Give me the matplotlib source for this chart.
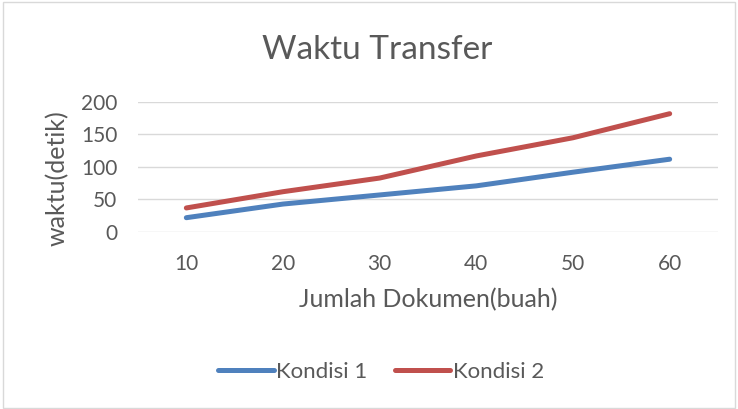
import matplotlib
matplotlib.use("Agg")
import matplotlib.pyplot as plt
from matplotlib.patches import Rectangle

categories = ["10", "20", "30", "40", "50", "60"]
kondisi1 = [22, 43, 57, 71, 92, 112]
kondisi2 = [37, 62, 83, 117, 145, 182]
yticks = [0, 50, 100, 150, 200]

plt.rcParams['font.family'] = ['Lato', 'DejaVu Sans']
W, H = 738, 409
fig = plt.figure(figsize=(W/100, H/100), dpi=100)
fig.patches.append(Rectangle((3/W, 1/H), 1-6/W, 1-3/H, transform=fig.transFigure,
                             fill=False, edgecolor='#D9D9D9', lw=1))

ax = fig.add_axes([138/W, 1-232/H, (718-138)/W, (232-102)/H])
x = list(range(len(categories)))
ax.plot(x, kondisi1, color='#4F81BD', lw=3.6, solid_capstyle='round', solid_joinstyle='round', label='Kondisi 1')
ax.plot(x, kondisi2, color='#C0504D', lw=3.6, solid_capstyle='round', solid_joinstyle='round', label='Kondisi 2')
ax.set_xlim(-0.5, len(categories)-0.5)
ax.set_ylim(0, 200)
ax.set_yticks(yticks)
ax.set_xticks(x)
ax.set_xticklabels(categories)
ax.yaxis.grid(True, color='#D9D9D9', lw=1)
ax.set_axisbelow(True)
for s in ax.spines.values():
    s.set_visible(False)
ax.tick_params(length=0, labelsize=15, colors='#595959')
ax.tick_params(axis='y', pad=15)
ax.tick_params(axis='x', pad=16)
ax.set_xlabel('Jumlah Dokumen(buah)', fontsize=18, color='#595959', labelpad=10)
fig.text(57/W, 1-178/H, 'waktu(detik)', fontsize=18, color='#595959', rotation=90,
         ha='center', va='center')
fig.text(377/W, 1-50/H, 'Waktu Transfer', fontsize=24, color='#595959', ha='center', va='center')
leg = fig.legend(loc='center', bbox_to_anchor=(381/W, 1-372/H), ncol=2, frameon=False,
                 fontsize=16, handlelength=2.5, handletextpad=0.1, columnspacing=1.25)
for t in leg.get_texts():
    t.set_color('#595959')
fig.savefig('out.png', dpi=100)
